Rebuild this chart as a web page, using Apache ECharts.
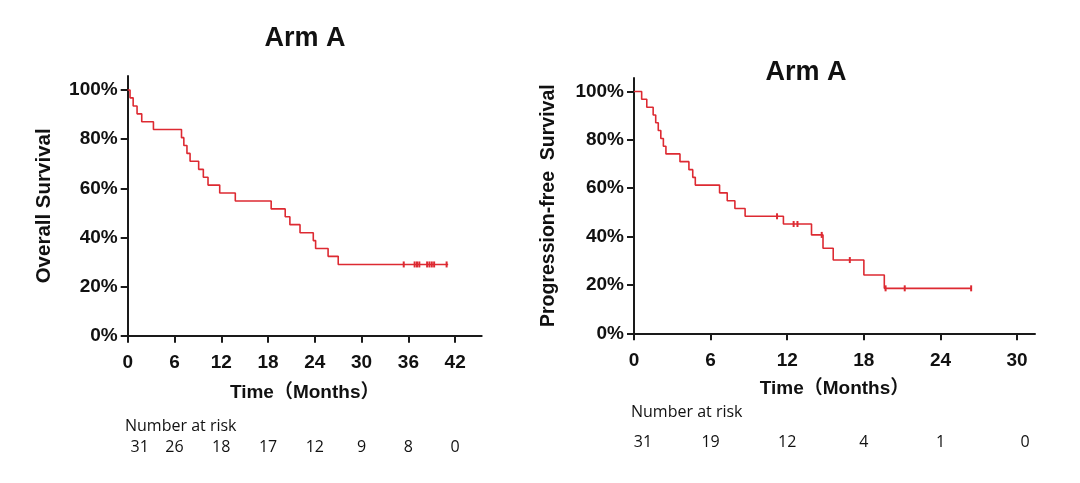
<!DOCTYPE html>
<html>
<head>
<meta charset="utf-8">
<style>
html,body{margin:0;padding:0;background:#fff;}
#c{width:1080px;height:483px;}
</style>
<script src="https://cdn.jsdelivr.net/npm/echarts@6/dist/echarts.min.js"></script>
</head>
<body>
<div id="c"></div>
<script>
// ---- Overall survival (left) ----
const osTime = [0, 0.3, 0.7, 1.2, 1.8, 3.3, 6.9, 7.2, 7.6, 8.0, 9.1, 9.7, 10.3, 11.8, 13.8, 18.4, 20.2, 20.8, 22.1, 23.8, 24.1, 25.7, 27.0, 41.1];
const osSurv = [100, 96.8, 93.5, 90.3, 87.1, 83.9, 80.6, 77.4, 74.2, 71.0, 67.7, 64.5, 61.3, 58.1, 54.8, 51.6, 48.4, 45.2, 41.9, 38.7, 35.5, 32.3, 29.0, 29.0];
const osCensorTime = [35.4, 36.8, 37.1, 37.4, 38.4, 38.7, 39.0, 39.3, 40.9];
const osCensorSurv = [29.0, 29.0, 29.0, 29.0, 29.0, 29.0, 29.0, 29.0, 29.0];
const osTicks = [0, 6, 12, 18, 24, 30, 36, 42];
const osRiskTime = [0, 6, 12, 18, 24, 30, 36, 42];
const osRiskN = [31, 26, 18, 17, 12, 9, 8, 0];

// ---- Progression-free survival (right) ----
const pfsTime = [0, 0.6, 1.0, 1.5, 1.7, 1.9, 2.1, 2.3, 2.5, 3.6, 4.3, 4.6, 4.8, 6.7, 7.3, 7.9, 8.7, 11.7, 13.9, 14.8, 15.6, 18.0, 19.6, 26.4];
const pfsSurv = [100, 96.8, 93.5, 90.3, 87.1, 83.9, 80.6, 77.4, 74.2, 71.0, 67.7, 64.5, 61.3, 58.1, 54.8, 51.6, 48.4, 45.2, 40.7, 35.2, 30.3, 24.1, 18.6, 18.6];
const pfsCensorTime = [11.2, 12.5, 12.8, 14.7, 16.9, 19.7, 21.2, 26.4];
const pfsCensorSurv = [48.4, 45.2, 45.2, 40.7, 30.3, 18.6, 18.6, 18.6];
const pfsTicks = [0, 6, 12, 18, 24, 30];
const pfsRiskTime = [0, 6, 12, 18, 24, 30];
const pfsRiskN = [31, 19, 12, 4, 1, 0];

const yTicks = [0, 20, 40, 60, 80, 100];

const RED = '#dd2a32';
const AX = '#1a1a1a';
const zip = (a, b) => a.map((v, i) => [v, b[i]]);

function xAxisMain(gi, max, ticks, gap) {
  return {
    type: 'value', gridIndex: gi, min: 0, max: max,
    name: 'Time（Months）', nameLocation: 'middle', nameGap: gap,
    nameTextStyle: {fontFamily: 'Liberation Sans, Noto Sans CJK SC', fontWeight: 'bold', fontSize: 19, color: '#111'},
    axisLine: {show: true, lineStyle: {color: AX, width: 2}},
    axisTick: {show: true, length: 7, lineStyle: {color: AX, width: 2}, customValues: ticks},
    axisLabel: {customValues: ticks, color: '#111', fontFamily: 'Liberation Sans', fontWeight: 'bold', fontSize: 19, margin: 18},
    splitLine: {show: false}
  };
}
function yAxisMain(gi, max, name, gap, fs) {
  return {
    type: 'value', gridIndex: gi, min: 0, max: max,
    name: name, nameLocation: 'middle', nameGap: gap, nameRotate: 90,
    nameTextStyle: {fontFamily: 'Liberation Sans', fontWeight: 'bold', fontSize: fs, color: '#111'},
    axisLine: {show: true, lineStyle: {color: AX, width: 2}},
    axisTick: {show: true, length: 7, lineStyle: {color: AX, width: 2}, customValues: yTicks},
    axisLabel: {customValues: yTicks, formatter: v => v + '%', color: '#111', fontFamily: 'Liberation Sans', fontWeight: 'bold', fontSize: 19, margin: 10},
    splitLine: {show: false}
  };
}
function riskAxes(gi, max) {
  return [
    {type: 'value', gridIndex: gi, min: 0, max: max, show: false},
    {type: 'value', gridIndex: gi, min: -1, max: 1, show: false}
  ];
}
function riskData(times, ns, firstOff, lastOff) {
  return times.map((t, i) => {
    const d = {value: [t, 0, ns[i]]};
    if (i === 0 && firstOff) d.label = {offset: [firstOff, 0]};
    if (i === times.length - 1 && lastOff) d.label = {offset: [lastOff, 0]};
    return d;
  });
}

const osMax = 45.4, pfsMax = 31.4;
const x1 = xAxisMain(0, osMax, osTicks, 48);
const y1 = yAxisMain(0, 105.7, 'Overall Survival', 73, 20.5);
const x2 = xAxisMain(1, pfsMax, pfsTicks, 46);
const y2 = yAxisMain(1, 105.6, 'Progression-free  Survival', 75, 19.5);
const [rx1, ry1] = riskAxes(2, osMax);
const [rx2, ry2] = riskAxes(3, pfsMax);

const riskLabel = {show: true, position: 'inside', formatter: p => p.data.value[2], color: '#111', opacity: 1, fontFamily: 'Open Sans', fontSize: 16};

const option = {
  backgroundColor: '#fff',
  animation: false,
  title: [
    {text: 'Arm A', left: 300, top: 20, textAlign: 'center', textStyle: {fontFamily: 'Liberation Sans', fontWeight: 'bold', fontSize: 27, color: '#111'}},
    {text: 'Arm A', left: 801, top: 54, textAlign: 'center', textStyle: {fontFamily: 'Liberation Sans', fontWeight: 'bold', fontSize: 27, color: '#111'}}
  ],
  graphic: [
    {type: 'text', left: 125, top: 418, style: {text: 'Number at risk', fontFamily: 'Open Sans', fontSize: 16, fill: '#111'}},
    {type: 'text', left: 631, top: 404, style: {text: 'Number at risk', fontFamily: 'Open Sans', fontSize: 16, fill: '#111'}}
  ],
  grid: [
    {left: 127.7, right: 598.3, top: 76, bottom: 147.3},
    {left: 634, right: 45, top: 78, bottom: 149.7},
    {left: 127.7, right: 598.3, top: 437, height: 20},
    {left: 634, right: 45, top: 432, height: 20}
  ],
  xAxis: [x1, x2, rx1, rx2],
  yAxis: [y1, y2, ry1, ry2],
  series: [
    {type: 'line', xAxisIndex: 0, yAxisIndex: 0, step: 'end', data: zip(osTime, osSurv), symbol: 'none', lineStyle: {color: RED, width: 1.6}, z: 3},
    {type: 'scatter', xAxisIndex: 0, yAxisIndex: 0, data: zip(osCensorTime, osCensorSurv), symbol: 'rect', symbolSize: [2, 6], itemStyle: {color: RED, opacity: 1}, z: 4},
    {type: 'line', xAxisIndex: 1, yAxisIndex: 1, step: 'end', data: zip(pfsTime, pfsSurv), symbol: 'none', lineStyle: {color: RED, width: 1.6}, z: 3},
    {type: 'scatter', xAxisIndex: 1, yAxisIndex: 1, data: zip(pfsCensorTime, pfsCensorSurv), symbol: 'rect', symbolSize: [2, 6], itemStyle: {color: RED, opacity: 1}, z: 4},
    {type: 'scatter', xAxisIndex: 2, yAxisIndex: 2, data: riskData(osRiskTime, osRiskN, 12, 0), symbolSize: 0, itemStyle: {opacity: 1}, label: riskLabel},
    {type: 'scatter', xAxisIndex: 3, yAxisIndex: 3, data: riskData(pfsRiskTime, pfsRiskN, 9, 8), symbolSize: 0, itemStyle: {opacity: 1}, label: riskLabel}
  ]
};
const chart = echarts.init(document.getElementById('c'), null, {renderer: 'canvas'});
chart.setOption(option);
</script>
</body>
</html>
